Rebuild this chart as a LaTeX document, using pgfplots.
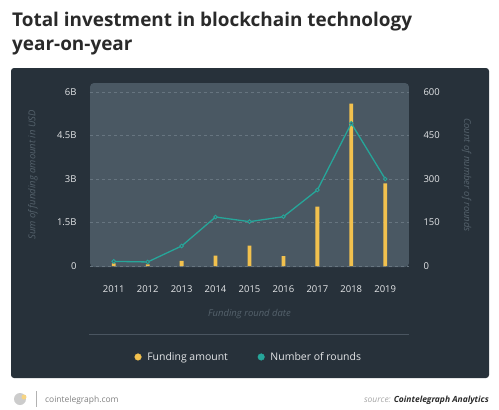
\documentclass[border=0pt]{standalone}
\usepackage{pgfplots}
\pgfplotsset{compat=1.18}
\usepackage{fontspec}
\setmainfont{Open Sans}
\definecolor{panel}{HTML}{27313A}
\definecolor{plotbg}{HTML}{4A5863}
\definecolor{gridc}{HTML}{677580}
\definecolor{barc}{HTML}{F2C14E}
\definecolor{tealc}{HTML}{26A69A}
\definecolor{tickc}{HTML}{E4E6E8}
\definecolor{labc}{HTML}{55626C}
\definecolor{sepc}{HTML}{4A5560}
\definecolor{titlec}{HTML}{2A2A2A}
\begin{document}
\begin{tikzpicture}
\fill[white] (0,0) rectangle (499bp,-410bp);
\path[use as bounding box] (0,0) rectangle (499bp,-410bp);
\fill[panel, rounded corners=3bp] (11bp,-68bp) rectangle (489bp,-378bp);
\node[anchor=base west, font=\bfseries\fontsize{19}{22}\selectfont, text=titlec, inner sep=0] at (12bp,-26bp) {Total investment in blockchain technology};
\node[anchor=base west, font=\bfseries\fontsize{19}{22}\selectfont, text=titlec, inner sep=0] at (12bp,-50bp) {year-on-year};

\begin{axis}[
  at={(90bp,-267bp)}, anchor=south west, scale only axis,
  width=319bp, height=184bp,
  xmin=-0.7, xmax=8.7, ymin=-0.034, ymax=6.31,
  ybar, bar width=3.8bp,
  axis line style={draw=none}, major tick length=0pt,
  xtick={0,...,8}, xticklabels={2011,2012,2013,2014,2015,2016,2017,2018,2019},
  ytick={0,1.5,3,4.5,6}, yticklabels={0,1.5B,3B,4.5B,6B},
  ymajorgrids, grid style={dashed, gridc, line width=0.5bp},
  axis background/.style={fill=plotbg, rounded corners=4bp},
  ticklabel style={font=\fontsize{9.5}{11}\selectfont, text=tickc},
  /pgf/number format/assume math mode=true,
  xticklabel style={yshift=-15bp},
  yticklabel style={xshift=-10bp},
  ylabel={Sum of funding amount in USD},
  ylabel style={at={(axis description cs:-0.1787,0.5)}, anchor=center, rotate=0, font=\itshape\fontsize{9.5}{11}\selectfont, text=labc},
  xlabel={Funding round date},
  xlabel style={at={(axis description cs:0.5,-0.256)}, anchor=center, font=\itshape\fontsize{9.5}{11}\selectfont, text=labc},
]
\addplot[fill=barc, draw=none] coordinates {
 (0,0.09) (1,0.06) (2,0.18) (3,0.36) (4,0.70) (5,0.34) (6,2.05) (7,5.60) (8,2.85)
};
\end{axis}

\begin{axis}[
  at={(90bp,-267bp)}, anchor=south west, scale only axis,
  width=319bp, height=184bp,
  xmin=-0.7, xmax=8.7, ymin=-3.4, ymax=631,
  hide x axis,
  axis y line*=right,
  axis line style={draw=none}, major tick length=0pt,
  ytick={0,150,300,450,600},
  ticklabel style={font=\fontsize{9.5}{11}\selectfont, text=tickc},
  /pgf/number format/assume math mode=true,
  yticklabel style={xshift=11bp},
  ylabel={Count of number of rounds},
  ylabel style={at={(axis description cs:1.181,0.5)}, anchor=center, rotate=180, font=\itshape\fontsize{9.5}{11}\selectfont, text=labc},
  legend columns=2,
  legend style={at={(axis description cs:0.498,-0.489)}, anchor=center, draw=none, fill=none,
    font=\fontsize{10.5}{12}\selectfont, text=tickc,
    /tikz/every odd column/.append style={column sep=4bp},
    /tikz/every even column/.append style={column sep=28bp}},
]
\addlegendimage{only marks, mark=*, mark size=3.3bp, color=barc}
\addlegendentry{Funding amount}
\addlegendimage{only marks, mark=*, mark size=3.3bp, color=tealc}
\addlegendentry{Number of rounds}
\addplot[tealc, line width=1.3bp, mark=*, mark size=1.8bp, mark options={fill=plotbg, line width=0.9bp}, forget plot] coordinates {
 (0,16) (1,14) (2,69) (3,169) (4,153) (5,170) (6,262) (7,492) (8,300)
};
\end{axis}

\draw[sepc, line width=0.8bp] (89bp,-334bp) -- (409bp,-334bp);
% footer
\fill[gray!40] (20bp,-399bp) circle (6bp);
\fill[barc!70] (24bp,-397bp) circle (2.5bp);
\draw[gray!60, line width=0.6bp] (36bp,-391bp) -- (36bp,-407bp);
\node[anchor=base west, inner sep=0, font=\fontsize{8.5}{10}\selectfont, text=gray] at (45bp,-402bp) {cointelegraph.com};
\node[anchor=base east, inner sep=0, font=\fontsize{8.5}{10}\selectfont] at (489bp,-402bp) {\textcolor{gray!70}{\itshape source:} \textcolor{titlec}{\bfseries\itshape Cointelegraph Analytics}};
\end{tikzpicture}
\end{document}
